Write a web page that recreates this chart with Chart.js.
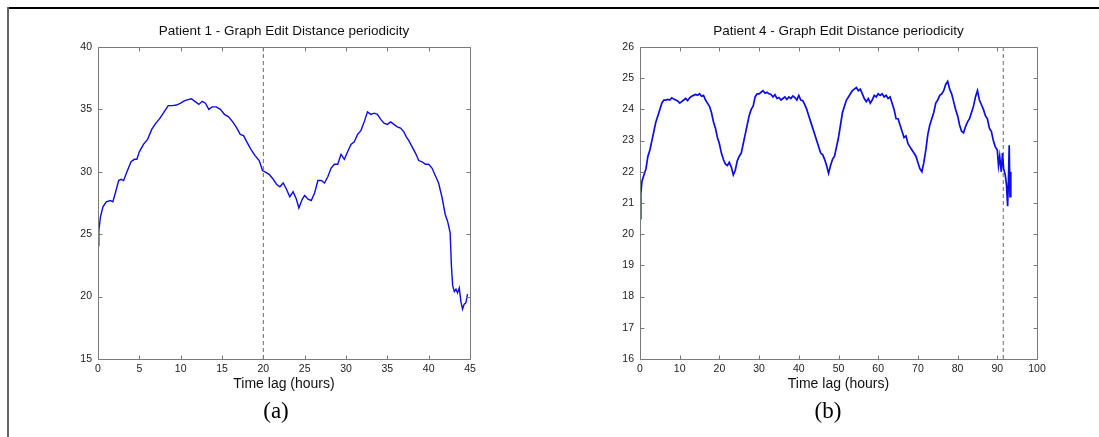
<!DOCTYPE html>
<html>
<head>
<meta charset="utf-8">
<script src="https://cdn.jsdelivr.net/npm/chart.js@4.4.1/dist/chart.umd.min.js"></script>
<style>
  html, body { margin: 0; padding: 0; background: #fff; }
  body { width: 1099px; height: 437px; position: relative; overflow: hidden; }
  #frameTop { position: absolute; left: 7px; top: 7px; width: 1092px; height: 2px; background: #000; }
  #frameLeft { position: absolute; left: 7px; top: 7px; width: 2px; height: 430px; background: #666; }
  canvas { position: absolute; top: 0; }
  #c1 { left: 0; }
  #c2 { left: 550px; }
  .cap { position: absolute; font-family: "Liberation Serif", "Times New Roman", serif; font-size: 23px; color: #000; width: 100px; text-align: center; top: 398px; }
  #capA { left: 226px; }
  #capB { left: 778px; }
</style>
</head>
<body>
<div id="frameTop"></div>
<div id="frameLeft"></div>
<canvas id="c1" width="550" height="400"></canvas>
<canvas id="c2" width="549" height="400"></canvas>
<div class="cap" id="capA">(a)</div>
<div class="cap" id="capB">(b)</div>
<script>
// ---------- Patient 1 ----------
const p1Title = "Patient 1 - Graph Edit Distance periodicity";
const p1Hours = [0,0.1,0.3,0.6,1,1.5,1.8,2.1,2.5,2.8,3.1,3.5,4,4.4,4.7,5,5.5,6,6.5,7,7.5,8,8.5,9,9.5,10,10.5,11,11.3,11.8,12.2,12.6,13,13.4,13.8,14.3,14.8,15.3,15.8,16.3,16.8,17.2,17.6,18,18.5,19,19.5,19.9,20.2,20.7,21.2,21.6,22,22.4,22.8,23.2,23.6,24,24.3,24.7,25,25.4,25.8,26.2,26.6,27,27.4,27.8,28.2,28.6,29,29.4,29.8,30.2,30.6,31,31.4,31.8,32.2,32.6,33,33.4,33.8,34.2,34.6,35,35.4,35.8,36.2,36.6,37,37.3,37.6,38,38.4,38.8,39.2,39.6,40,40.4,40.8,41.2,41.6,42,42.3,42.6,42.75,42.9,43.1,43.3,43.5,43.7,43.9,44.1,44.3,44.5,44.7];
const p1Ged = [24.1,25.3,26.4,27.2,27.6,27.7,27.6,28.3,29.3,29.4,29.3,30.0,30.8,31.0,31.0,31.6,32.2,32.6,33.4,33.9,34.3,34.8,35.3,35.3,35.35,35.5,35.7,35.8,35.85,35.6,35.4,35.65,35.5,35.0,35.2,35.2,35.0,34.6,34.4,34.0,33.5,33.0,32.9,32.4,31.8,31.3,30.9,30.1,30.0,29.8,29.4,29.0,28.8,29.1,28.6,28.0,28.4,27.8,27.1,27.8,28.1,27.8,27.7,28.3,29.3,29.3,29.1,29.6,30.3,30.6,30.6,31.4,31.0,31.6,32.2,32.4,33.0,33.3,34.0,34.8,34.6,34.7,34.6,34.2,33.9,33.8,34.0,33.8,33.6,33.5,33.2,32.8,32.5,32.0,31.5,30.9,30.8,30.6,30.6,30.3,29.7,29.1,28.0,26.6,26.0,25.1,22.5,20.9,20.4,20.6,20.3,20.7,19.6,19.0,19.4,19.5,20.2];
const p1Marker = 20;
const p1XTicks = [0,5,10,15,20,25,30,35,40,45];
const p1YTicks = [15,20,25,30,35,40];

// ---------- Patient 4 ----------
const p4Title = "Patient 4 - Graph Edit Distance periodicity";
const p4Hours = [0,0.2,0.5,1,1.5,2,2.5,3,3.5,4,4.5,5,5.5,6,6.5,7,7.5,8,8.5,9,9.5,10,10.5,11,11.5,12,12.5,13,13.5,14,14.5,15,15.5,16,16.5,17,17.5,18,18.5,19,19.5,20,20.5,21,21.5,22,22.5,23,23.5,24,24.5,25,25.5,26,26.5,27,27.5,28,28.5,29,29.5,30,30.5,31,31.5,32,32.5,33,33.5,34,34.5,35,35.5,36,36.5,37,37.5,38,38.5,39,39.5,40,40.5,41,41.5,42,42.5,43,43.5,44,44.5,45,45.5,46,46.5,47,47.5,48,48.5,49,49.5,50,50.5,51,51.5,52,52.5,53,53.5,54,54.5,55,55.5,56,56.5,57,57.5,58,58.5,59,59.5,60,60.5,61,61.5,62,62.5,63,63.5,64,64.5,65,65.5,66,66.5,67,67.5,68,68.5,69,69.5,70,70.5,71,71.5,72,72.5,73,73.5,74,74.5,75,75.5,76,76.5,77,77.5,78,78.5,79,79.5,80,80.5,81,81.5,82,82.5,83,83.5,84,84.5,85,85.5,86,86.5,87,87.5,88,88.5,89,89.5,90,90.3,90.6,91,91.3,91.6,92,92.3,92.6,92.8,93,93.2,93.4];
const p4Ged = [20.5,21.3,21.7,21.9,22.1,22.5,22.7,23.0,23.3,23.6,23.8,24.0,24.2,24.3,24.3,24.32,24.3,24.37,24.33,24.3,24.27,24.2,24.25,24.3,24.35,24.28,24.37,24.42,24.45,24.48,24.45,24.5,24.42,24.45,24.3,24.2,24.1,23.9,23.6,23.4,23.1,22.9,22.6,22.4,22.25,22.2,22.3,22.15,21.9,22.05,22.35,22.5,22.6,22.9,23.2,23.5,23.8,24.0,24.1,24.4,24.5,24.5,24.55,24.6,24.52,24.55,24.5,24.48,24.4,24.47,24.35,24.38,24.3,24.35,24.4,24.32,24.4,24.35,24.43,24.38,24.3,24.45,24.3,24.28,24.15,24.0,23.8,23.6,23.4,23.2,23.0,22.8,22.6,22.55,22.4,22.2,21.95,22.2,22.4,22.5,22.8,23.1,23.5,23.9,24.1,24.3,24.4,24.5,24.6,24.65,24.7,24.6,24.65,24.5,24.35,24.25,24.35,24.2,24.3,24.45,24.4,24.5,24.45,24.5,24.4,24.45,24.35,24.4,24.2,24.0,23.7,23.7,23.5,23.3,23.1,23.15,22.9,22.8,22.7,22.6,22.5,22.3,22.1,22.0,22.3,22.7,23.2,23.5,23.7,23.9,24.2,24.3,24.45,24.5,24.6,24.8,24.9,24.65,24.5,24.25,24.0,23.8,23.5,23.3,23.25,23.45,23.6,23.7,23.9,24.1,24.4,24.6,24.3,24.15,24.0,23.8,23.7,23.4,23.3,23.0,22.8,22.7,22.2,22.5,22.0,22.6,22.1,21.9,21.6,20.9,21.7,22.85,21.2,22.0];
const p4Marker = 91.5;
const p4XTicks = [0,10,20,30,40,50,60,70,80,90,100];
const p4YTicks = [16,17,18,19,20,21,22,23,24,25,26];

Chart.defaults.font.family = '"Liberation Sans", Arial, Helvetica, sans-serif';
Chart.defaults.color = '#222';

const matlabAxes = {
  id: 'matlabAxes',
  afterDatasetsDraw(chart) {
    const {ctx, chartArea: a, scales: {x, y}} = chart;
    ctx.save();
    ctx.strokeStyle = '#7a7a7a';
    ctx.lineWidth = 1;
    const L = Math.round(a.left) + 0.5, R = Math.round(a.right) + 0.5;
    const T = Math.round(a.top) + 0.5, B = Math.round(a.bottom) + 0.5;
    ctx.beginPath();
    ctx.rect(L, T, R - L, B - T);
    const tl = 4;
    x.ticks.forEach(t => {
      const px = Math.round(x.getPixelForValue(t.value)) + 0.5;
      ctx.moveTo(px, B); ctx.lineTo(px, B - tl);
      ctx.moveTo(px, T); ctx.lineTo(px, T + tl);
    });
    y.ticks.forEach(t => {
      const py = Math.round(y.getPixelForValue(t.value)) + 0.5;
      ctx.moveTo(L, py); ctx.lineTo(L + tl, py);
      ctx.moveTo(R, py); ctx.lineTo(R - tl, py);
    });
    ctx.stroke();
    ctx.restore();
  }
};

function makeChart(id, title, hours, ged, marker, xTicks, yTicks, padL, padR, yWidth, lw) {
  const pts = hours.map((h, i) => ({x: h, y: ged[i]}));
  const yMin = yTicks[0], yMax = yTicks[yTicks.length - 1];
  const xMin = xTicks[0], xMax = xTicks[xTicks.length - 1];
  return new Chart(document.getElementById(id), {
    type: 'line',
    data: {
      datasets: [
        {data: pts, borderColor: '#0c0ce8', borderWidth: lw, pointRadius: 0, tension: 0, fill: false},
        {data: [{x: marker, y: yMin}, {x: marker, y: yMax}], borderColor: '#6a6a6a', borderWidth: 1, borderDash: [4, 3], pointRadius: 0, fill: false}
      ]
    },
    options: {
      responsive: false,
      animation: false,
      devicePixelRatio: 1,
      events: [],
      layout: {padding: {left: padL, right: padR, top: 23, bottom: 0}},
      plugins: {
        legend: {display: false},
        tooltip: {enabled: false},
        title: {display: true, text: title, fullSize: false, color: '#111',
                font: {size: 13.5, weight: 'normal'}, padding: {top: 0, bottom: 7.8}}
      },
      scales: {
        x: {
          type: 'linear', min: xMin, max: xMax,
          afterBuildTicks: s => { s.ticks = xTicks.map(v => ({value: v})); },
          afterFit: s => { s.height = 41; },
          grid: {display: false, drawTicks: false},
          border: {display: false},
          ticks: {font: {size: 10.5}, padding: 4, maxRotation: 0, autoSkip: false, color: '#222'},
          title: {display: true, text: 'Time lag (hours)', color: '#111', font: {size: 14}, padding: {top: 0, bottom: 7.5}}
        },
        y: {
          type: 'linear', min: yMin, max: yMax,
          afterBuildTicks: s => { s.ticks = yTicks.map(v => ({value: v})); },
          afterFit: s => { s.width = yWidth; },
          grid: {display: false, drawTicks: false},
          border: {display: false},
          ticks: {font: {size: 10.5}, padding: 6, autoSkip: false, color: '#222'}
        }
      }
    },
    plugins: [matlabAxes]
  });
}

makeChart('c1', p1Title, p1Hours, p1Ged, p1Marker, p1XTicks, p1YTicks, 40, 80, 58, 1.4);
makeChart('c2', p4Title, p4Hours, p4Ged, p4Marker, p4XTicks, p4YTicks, 40, 62, 50, 1.7);
</script>
</body>
</html>
